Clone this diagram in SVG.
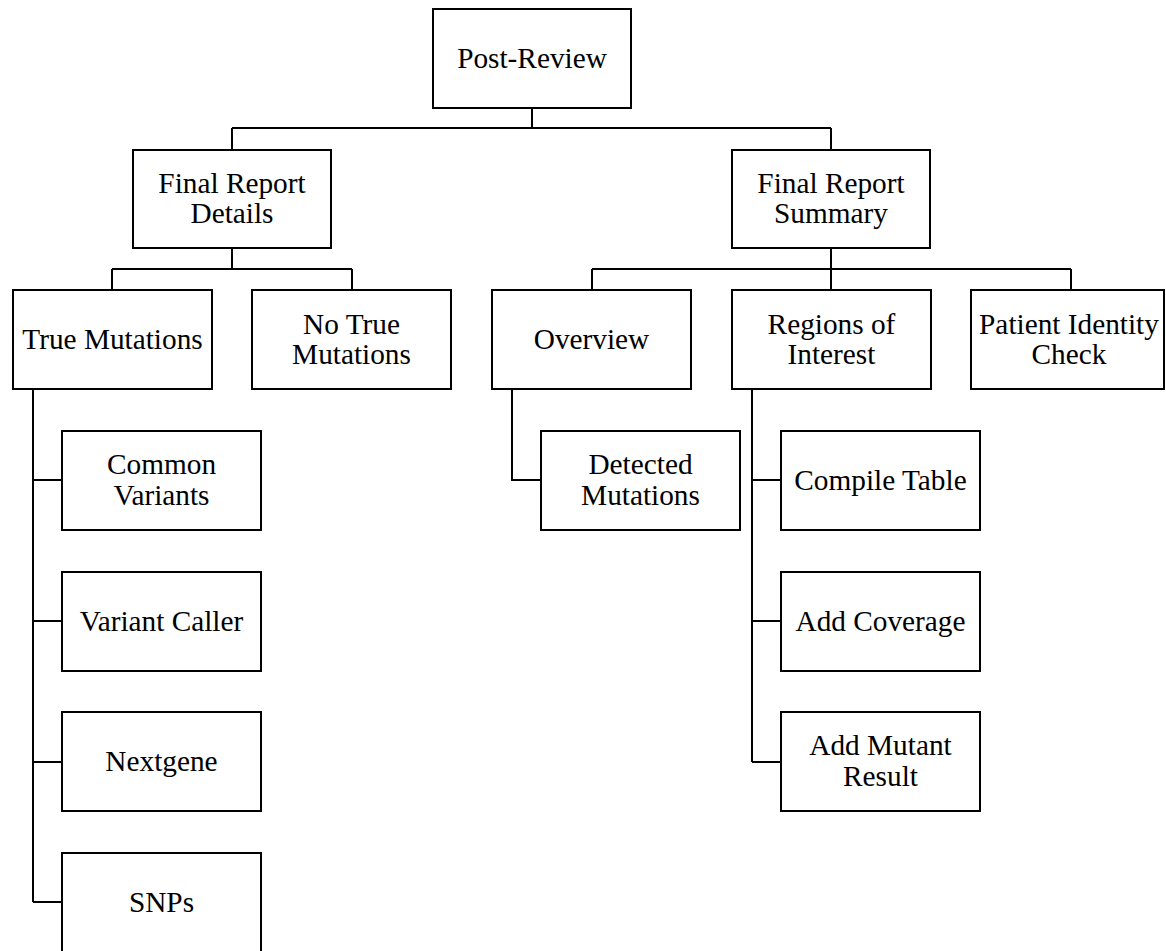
<svg xmlns="http://www.w3.org/2000/svg" width="1166" height="951" viewBox="0 0 1166 951">
  <style>
    .box rect { fill: #ffffff; stroke: #000000; stroke-width: 2; }
    .box text { font-family: "Liberation Serif", "Times New Roman", serif; font-size: 29.3px; fill: #000000; text-anchor: middle; }
    #connectors path { fill: none; stroke: #000000; stroke-width: 2; }
  </style>
  <rect x="0" y="0" width="1166" height="951" fill="#ffffff"/>

  <g id="connectors">
    <!-- root to level 1 -->
    <path d="M532,108 V128 M232,128 H831 M232,128 V150 M831,128 V150"/>
    <!-- Final Report Details to children -->
    <path d="M232,248 V269 M112,269 H352 M112,269 V290 M352,269 V290"/>
    <!-- Final Report Summary to children -->
    <path d="M831,248 V290 M592,269 H1071 M592,269 V290 M1071,269 V290"/>
    <!-- True Mutations list -->
    <path d="M33,389 V902 M33,480 H62 M33,621 H62 M33,762 H62 M33,902 H62"/>
    <!-- Overview list -->
    <path d="M512,389 V480 H541"/>
    <!-- Regions of Interest list -->
    <path d="M752,389 V762 M752,480 H781 M752,621 H781 M752,762 H781"/>
  </g>

  <g id="post-review" class="box">
    <rect x="433" y="9" width="198" height="99"/>
    <text x="532" y="68">Post-Review</text>
  </g>

  <g id="final-report-details" class="box">
    <rect x="133" y="150" width="198" height="98"/>
    <text x="232" y="193">Final Report</text>
    <text x="232" y="223">Details</text>
  </g>

  <g id="final-report-summary" class="box">
    <rect x="732" y="150" width="198" height="98"/>
    <text x="831" y="193">Final Report</text>
    <text x="831" y="223">Summary</text>
  </g>

  <g id="true-mutations" class="box">
    <rect x="13" y="290" width="199" height="99"/>
    <text x="112.5" y="349">True Mutations</text>
  </g>

  <g id="no-true-mutations" class="box">
    <rect x="252" y="290" width="199" height="99"/>
    <text x="351.5" y="334">No True</text>
    <text x="351.5" y="364">Mutations</text>
  </g>

  <g id="overview" class="box">
    <rect x="492" y="290" width="199" height="99"/>
    <text x="591.5" y="349">Overview</text>
  </g>

  <g id="regions-of-interest" class="box">
    <rect x="732" y="290" width="199" height="99"/>
    <text x="831.5" y="334">Regions of</text>
    <text x="831.5" y="364">Interest</text>
  </g>

  <g id="patient-identity-check" class="box">
    <rect x="971" y="290" width="193" height="99"/>
    <text x="1069" y="334">Patient Identity</text>
    <text x="1069" y="364">Check</text>
  </g>

  <g id="common-variants" class="box">
    <rect x="62" y="431" width="199" height="99"/>
    <text x="161.5" y="474">Common</text>
    <text x="161.5" y="505">Variants</text>
  </g>

  <g id="variant-caller" class="box">
    <rect x="62" y="572" width="199" height="99"/>
    <text x="161.5" y="631">Variant Caller</text>
  </g>

  <g id="nextgene" class="box">
    <rect x="62" y="712" width="199" height="99"/>
    <text x="161.5" y="771">Nextgene</text>
  </g>

  <g id="snps" class="box">
    <rect x="62" y="853" width="199" height="99"/>
    <text x="161.5" y="912">SNPs</text>
  </g>

  <g id="detected-mutations" class="box">
    <rect x="541" y="431" width="199" height="99"/>
    <text x="640.5" y="474">Detected</text>
    <text x="640.5" y="505">Mutations</text>
  </g>

  <g id="compile-table" class="box">
    <rect x="781" y="431" width="199" height="99"/>
    <text x="880.5" y="490">Compile Table</text>
  </g>

  <g id="add-coverage" class="box">
    <rect x="781" y="572" width="199" height="99"/>
    <text x="880.5" y="631">Add Coverage</text>
  </g>

  <g id="add-mutant-result" class="box">
    <rect x="781" y="712" width="199" height="99"/>
    <text x="880.5" y="755">Add Mutant</text>
    <text x="880.5" y="786">Result</text>
  </g>
</svg>
